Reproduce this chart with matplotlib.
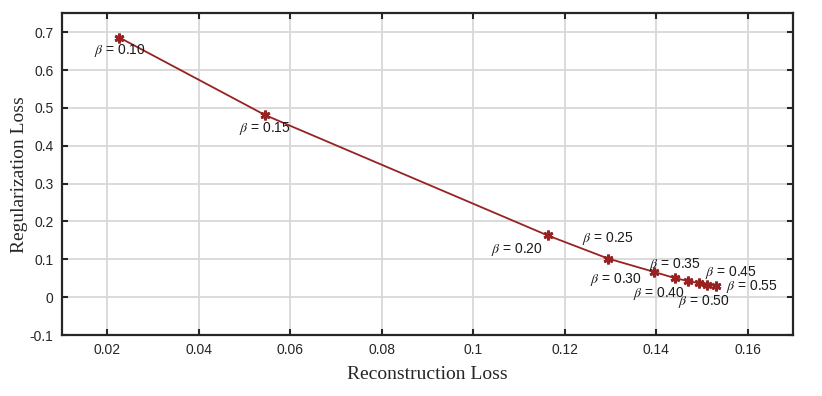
import matplotlib
matplotlib.use("Agg")
import matplotlib.pyplot as plt

# Data
betas = ["0.10", "0.15", "0.20", "0.25", "0.30", "0.35", "0.40", "0.45", "0.50", "0.55"]
recon_loss = [0.0226, 0.0545, 0.1163, 0.1295, 0.1395, 0.1442, 0.1469, 0.1493, 0.1512, 0.1530]
reg_loss = [0.686, 0.481, 0.163, 0.102, 0.067, 0.050, 0.043, 0.037, 0.033, 0.030]
xticks = [0.02, 0.04, 0.06, 0.08, 0.10, 0.12, 0.14, 0.16]
xticklabels = ["0.02", "0.04", "0.06", "0.08", "0.1", "0.12", "0.14", "0.16"]
yticks = [-0.1, 0, 0.1, 0.2, 0.3, 0.4, 0.5, 0.6, 0.7]
yticklabels = ["-0.1", "0", "0.1", "0.2", "0.3", "0.4", "0.5", "0.6", "0.7"]
# label offsets in pixels (dx, dy; dy positive = up)
label_offsets = [(1, -13), (0, -13), (-31, -14), (0, 20), (-38, -8),
                 (0, 14), (-29, -13), (32, 11), (-3, -17), (36, -1)]

plt.rcParams['mathtext.fontset'] = 'stix'
plt.rcParams['font.family'] = ['Liberation Sans', 'DejaVu Sans']

fig = plt.figure(figsize=(8.22, 3.96), dpi=100)
ax = fig.add_axes([0.0751, 0.154, 0.890, 0.8124])

color = '#982222'
ax.plot(recon_loss, reg_loss, color=color, lw=1.3, marker=(6, 2, 0),
        markersize=7, markeredgewidth=2.0, markeredgecolor=color, zorder=3)

for b, x, y, (dx, dy) in zip(betas, recon_loss, reg_loss, label_offsets):
    ax.annotate(r"$\mathit{\beta}$ = " + b, (x, y), xytext=(dx, dy), textcoords='offset pixels',
                ha='center', va='center', fontsize=10, color='#1a1a1a')

ax.set_xlim(0.01, 0.17)
ax.set_ylim(-0.1, 0.75)
ax.set_xticks(xticks)
ax.set_xticklabels(xticklabels)
ax.set_yticks(yticks)
ax.set_yticklabels(yticklabels)
ax.tick_params(direction='in', top=True, right=True, length=4, width=1.5,
               color='#262626', labelsize=10, labelcolor='#262626', pad=6)
ax.grid(True, color='#d8d8d8', lw=1.3)
ax.set_axisbelow(True)
for s in ax.spines.values():
    s.set_linewidth(1.6)
    s.set_color('#262626')

ax.set_xlabel("Reconstruction Loss", fontsize=14, family='Liberation Serif',
              color='#262626', labelpad=6)
ax.set_ylabel("Regularization Loss", fontsize=14, family='Liberation Serif',
              color='#262626', labelpad=1)

fig.savefig("out.png", dpi=100)
